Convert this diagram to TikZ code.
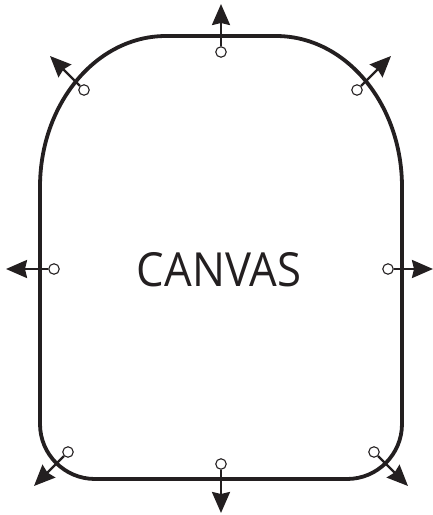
\documentclass[tikz,border=0pt]{standalone}
\usepackage{fontspec}
\setmainfont{Open Sans}
\usetikzlibrary{arrows.meta}
\definecolor{ink}{RGB}{35,31,32}
\begin{document}
\begin{tikzpicture}[x=1pt,y=-1pt,
  outline/.style={draw=ink,line width=3.8pt,line join=round},
  handle/.style={circle,draw=ink,line width=1.1pt,fill=white,minimum size=10.5pt,inner sep=0pt},
  pull/.style={draw=ink,line width=2.4pt,-{Stealth[length=21pt,width=18pt,inset=2pt]}}]
\useasboundingbox (0,0) rectangle (433,515);
\draw[outline] (166,36) -- (276,36)
  arc[start angle=-90,end angle=0,x radius=126,y radius=151]
  -- (402,424) arc[start angle=0,end angle=90,radius=55]
  -- (95,479) arc[start angle=90,end angle=180,radius=55]
  -- (40,187) arc[start angle=180,end angle=270,x radius=126,y radius=151] -- cycle;
\node[font=\fontsize{47}{50}\selectfont,text=ink,xscale=0.93] (label) at (219,270) {CANVAS};
% handles
\node[handle] (hn) at (221,52) {};
\node[handle] (hne) at (357,90) {};
\node[handle] (hnw) at (84,90) {};
\node[handle] (hw) at (54,269) {};
\node[handle] (he) at (388,269) {};
\node[handle] (hsw) at (68,452) {};
\node[handle] (hse) at (374,452) {};
\node[handle] (hs) at (221,464) {};
% tips
\coordinate (tn) at (221,4);
\coordinate (tne) at (391,56);
\coordinate (tnw) at (50,56);
\coordinate (tw) at (6,269);
\coordinate (te) at (433,269);
\coordinate (tsw) at (34,486);
\coordinate (tse) at (408,486);
\coordinate (ts) at (221,513);
\draw[pull] (hn) -- (tn);
\draw[pull] (hne) -- (tne);
\draw[pull] (hnw) -- (tnw);
\draw[pull] (hw) -- (tw);
\draw[pull] (he) -- (te);
\draw[pull] (hsw) -- (tsw);
\draw[pull] (hse) -- (tse);
\draw[pull] (hs) -- (ts);
\end{tikzpicture}
\end{document}
